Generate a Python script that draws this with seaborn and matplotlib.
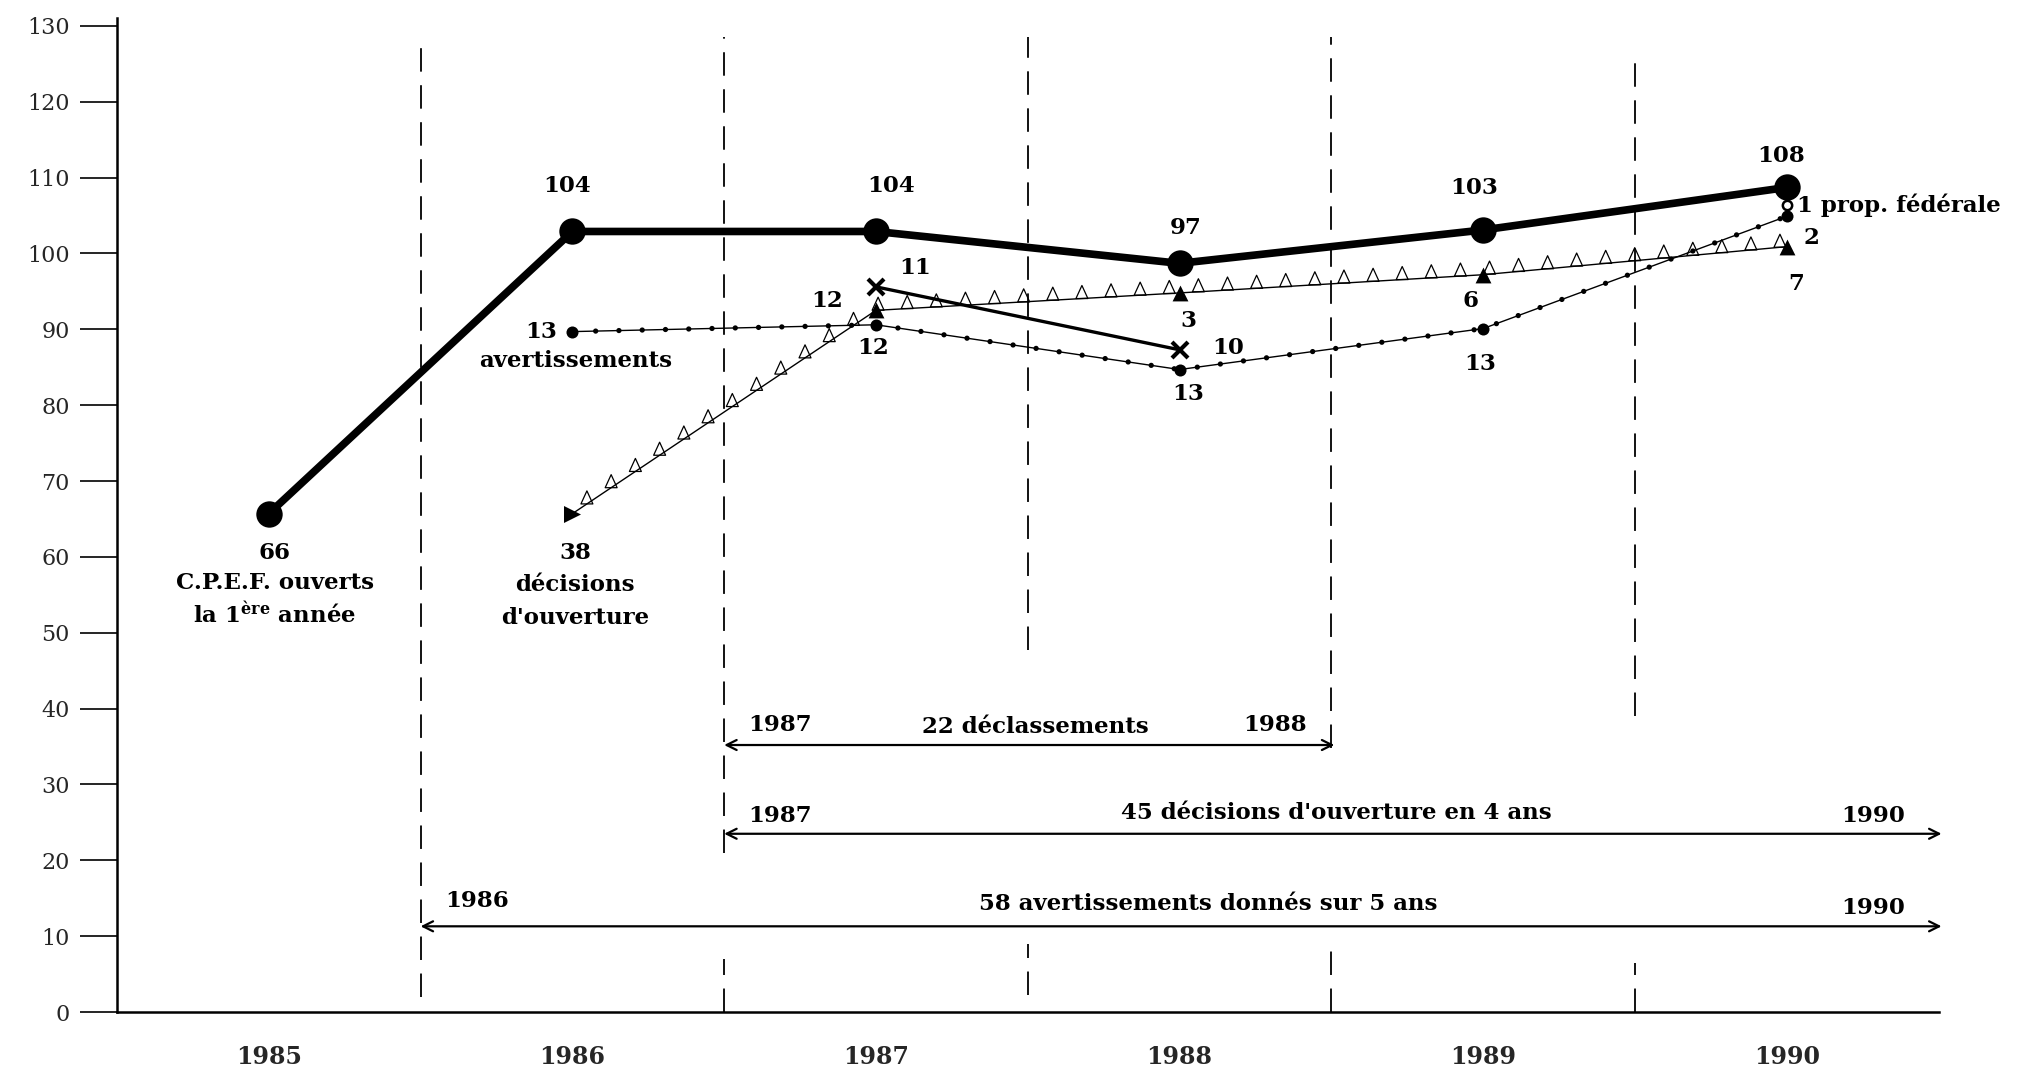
import numpy as np
import pandas as pd
import matplotlib
matplotlib.use("Agg")
import matplotlib.pyplot as plt
import seaborn as sns
from matplotlib.patheffects import AbstractPathEffect, Normal
from matplotlib.path import Path
from matplotlib.transforms import IdentityTransform

# ---------------- data ----------------
years = ["1985", "1986", "1987", "1988", "1989", "1990"]

cpef_years = ["1985", "1986", "1987", "1988", "1989", "1990"]
cpef_values = [65.7, 102.9, 102.9, 98.7, 103.1, 108.7]
cpef_labels = ["66", "104", "104", "97", "103", "108"]

avert_years = ["1986", "1987", "1988", "1989", "1990"]
avert_values = [89.7, 90.6, 84.7, 90.1, 104.9]
avert_labels = ["13", "12", "13", "13", "7"]

decis_years = ["1986", "1987", "1988", "1989", "1990"]
decis_values = [65.7, 92.5, 94.8, 97.2, 100.9]
decis_labels = ["38", "12", "3", "6", "2"]

declass_years = ["1987", "1988"]
declass_values = [95.6, 87.3]
declass_labels = ["11", "10"]

fed_years = ["1990"]
fed_values = [106.4]
fed_labels = ["1 prop. fédérale"]

span_starts = ["1987", "1987", "1986"]
span_ends = ["1988", "1990", "1990"]
span_texts = ["22 déclassements", "45 décisions d'ouverture en 4 ans",
              "58 avertissements donnés sur 5 ans"]
span_levels = [35.2, 23.5, 11.3]

y_ticks = list(range(0, 131, 10))

# ---------------- style ----------------
sns.set_style("white")
plt.rcParams["font.family"] = ["DejaVu Serif", "DejaVu Sans"]
plt.rcParams["mathtext.fontset"] = "dejavuserif"

BOLD = dict(fontweight="bold", fontsize=16.5, color="black")


class TriangleStroke(AbstractPathEffect):
    """Draw small hollow triangles sitting on the path (decoration)."""

    def __init__(self, spacing=21.0, width=8.6, height=9.4, lw=0.9):
        super().__init__()
        self.spacing, self.width, self.height, self.lw = spacing, width, height, lw

    def draw_path(self, renderer, gc, tpath, affine, rgbFace=None):
        verts = affine.transform(tpath.vertices)
        sp = renderer.points_to_pixels(self.spacing)
        w = renderer.points_to_pixels(self.width)
        h = renderer.points_to_pixels(self.height)
        centers = []
        carry = sp * 0.6
        for (x0, y0), (x1, y1) in zip(verts[:-1], verts[1:]):
            seg = np.hypot(x1 - x0, y1 - y0)
            d = carry
            while d < seg:
                t = d / seg
                centers.append((x0 + t * (x1 - x0), y0 + t * (y1 - y0)))
                d += sp
            carry = d - seg
        if not centers:
            return
        vv, cc = [], []
        for (x, y) in centers:
            vv += [(x - w / 2, y), (x + w / 2, y), (x, y + h), (x - w / 2, y)]
            cc += [Path.MOVETO, Path.LINETO, Path.LINETO, Path.CLOSEPOLY]
        gc0 = renderer.new_gc()
        gc0.copy_properties(gc)
        gc0.set_linewidth(self.lw)
        gc0.set_dashes(0, None)
        renderer.draw_path(gc0, Path(np.array(vv), cc), IdentityTransform(), None)
        gc0.restore()


fig = plt.figure(figsize=(20.4, 10.78), dpi=100)
ax = fig.add_axes([0.05735, 0.0612, 0.8929, 0.9218])

pos = {y: i for i, y in enumerate(years)}

df_cpef = pd.DataFrame({"x": [pos[y] for y in cpef_years], "y": cpef_values})
df_avert = pd.DataFrame({"x": [pos[y] for y in avert_years], "y": avert_values})
df_decis = pd.DataFrame({"x": [pos[y] for y in decis_years], "y": decis_values})
df_decl = pd.DataFrame({"x": [pos[y] for y in declass_years], "y": declass_values})
df_fed = pd.DataFrame({"x": [pos[y] for y in fed_years], "y": fed_values})

# --- separators (dashed) ---
sep_dash = (0, (13, 7.5))
separators = [
    (0.5, [(2.0, 128.6)]),
    (1.5, [(21.0, 128.6), (0.0, 7.0)]),
    (2.5, [(47.7, 128.6), (2.2, 9.0)]),
    (3.5, [(34.8, 128.6), (0.0, 8.0)]),
    (4.5, [(39.0, 126.6), (0.0, 6.5)]),
]
for xs, segs in separators:
    for lo, hi in segs:
        ax.vlines(xs, lo, hi, colors="black", linewidth=1.3, linestyles=sep_dash, zorder=1)

# --- décisions d'ouverture : line with hollow triangles ---
sns.lineplot(data=df_decis, x="x", y="y", ax=ax, color="black", linewidth=1.0,
             sort=False, zorder=3,
             path_effects=[Normal(), TriangleStroke()])
sns.scatterplot(data=df_decis.iloc[:1], x="x", y="y", ax=ax, marker=">", s=150,
                color="black", edgecolor="black", linewidth=0, zorder=5)
sns.scatterplot(data=df_decis.iloc[1:], x="x", y="y", ax=ax, marker="^", s=130,
                color="black", edgecolor="black", linewidth=0, zorder=5)

# --- avertissements : dotted line ---
sns.lineplot(data=df_avert, x="x", y="y", ax=ax, color="black", linewidth=1.0,
             sort=False, zorder=3)
sns.lineplot(data=df_avert, x="x", y="y", ax=ax, color="black", linewidth=3.8,
             sort=False, zorder=3)
ln = ax.lines[-1]
ln.set_linestyle((0, (0.01, 4.4)))
ln.set_dash_capstyle("round")
sns.scatterplot(data=df_avert, x="x", y="y", ax=ax, marker="o", s=75,
                color="black", edgecolor="black", linewidth=0, zorder=5)

# --- déclassements ---
sns.lineplot(data=df_decl, x="x", y="y", ax=ax, color="black", linewidth=2.4,
             sort=False, zorder=4, marker="x", markersize=12, markeredgewidth=3.0,
             markeredgecolor="black")

# --- proposition fédérale ---
sns.scatterplot(data=df_fed, x="x", y="y", ax=ax, marker="o", s=45,
                facecolor="white", edgecolor="black", linewidth=1.8, zorder=6)

# --- C.P.E.F. main line ---
sns.lineplot(data=df_cpef, x="x", y="y", ax=ax, color="black", linewidth=5.5,
             sort=False, zorder=7, marker="o", markersize=19,
             markeredgewidth=0, solid_capstyle="round")

# ---------------- labels ----------------
cpef_off = [(0.02, -5.2), (-0.017, 6.0), (0.05, 6.0), (0.02, 4.7), (-0.03, 5.5), (-0.02, 4.2)]
for (x, y, t, (dx, dy)) in zip(df_cpef.x, df_cpef.y, cpef_labels, cpef_off):
    ax.text(x + dx, y + dy, t, ha="center", va="center", **BOLD)
ax.text(0.02, 56.6, "C.P.E.F. ouverts", ha="center", va="center", **BOLD)
ax.text(0.02, 52.3, r"la 1$^{\mathbf{ère}}$ année", ha="center", va="center", **BOLD)

avert_off = [(-0.05, 0.0, "right"), (-0.01, -3.1, "center"), (0.03, -3.2, "center"),
             (-0.01, -4.7, "center"), (0.03, -8.9, "center")]
for (x, y, t, (dx, dy, ha)) in zip(df_avert.x, df_avert.y, avert_labels, avert_off):
    ax.text(x + dx, y + dy, t, ha=ha, va="center", **BOLD)
ax.text(1.01, 85.8, "avertissements", ha="center", va="center", **BOLD)

decis_off = [(0.01, -5.2, "center"), (-0.16, 1.3, "center"), (0.03, -3.7, "center"),
             (-0.04, -3.4, "center"), (0.08, 1.1, "center")]
for (x, y, t, (dx, dy, ha)) in zip(df_decis.x, df_decis.y, decis_labels, decis_off):
    ax.text(x + dx, y + dy, t, ha=ha, va="center", **BOLD)
ax.text(1.01, 56.3, "décisions", ha="center", va="center", **BOLD)
ax.text(1.01, 52.0, "d'ouverture", ha="center", va="center", **BOLD)

decl_off = [(0.13, 2.5), (0.16, 0.2)]
for (x, y, t, (dx, dy)) in zip(df_decl.x, df_decl.y, declass_labels, decl_off):
    ax.text(x + dx, y + dy, t, ha="center", va="center", **BOLD)

for (x, y, t) in zip(df_fed.x, df_fed.y, fed_labels):
    ax.text(x + 0.035, y, t, ha="left", va="center", **BOLD)

# --- spans with double arrows ---
mid_shift = [0.02, 0.01, 0.09]
start_dy = [2.6, 2.4, 3.3]
end_dy = [2.6, 2.4, 2.4]
mid_dy = [2.4, 2.7, 2.9]
end_dx = [0.09, 0.12, 0.12]
for s, e, t, lev, ms, sdy, edy, mdy, edx in zip(span_starts, span_ends, span_texts,
                                                span_levels, mid_shift, start_dy,
                                                end_dy, mid_dy, end_dx):
    x0 = pos[s] - 0.5
    x1 = pos[e] + 0.5 + 0.01
    ax.annotate("", xy=(x1, lev), xytext=(x0, lev),
                arrowprops=dict(arrowstyle="<->", color="black", lw=1.6,
                                mutation_scale=18, shrinkA=0, shrinkB=0),
                annotation_clip=False)
    ax.text(x0 + 0.08, lev + sdy, s, ha="left", va="center", **BOLD)
    ax.text(x1 - edx, lev + edy, e, ha="right", va="center", **BOLD)
    ax.text((x0 + x1) / 2 + ms, lev + mdy, t, ha="center", va="center", **BOLD)

# ---------------- axes ----------------
ax.set_xlim(-0.5, 5.5)
ax.set_ylim(0, 131)
ax.set_xlabel("")
ax.set_ylabel("")
ax.set_xticks(range(len(years)))
ax.set_xticklabels(years, fontweight="bold", fontsize=17)
ax.set_xticks([i + 0.5 for i in range(len(years) - 1)], minor=True)
ax.tick_params(axis="x", which="major", length=0, pad=24)
ax.tick_params(axis="x", which="minor", length=28, width=1.4, direction="out",
               color="black")
ax.set_yticks(y_ticks)
ax.set_yticklabels([str(v) for v in y_ticks], fontsize=16)
ax.tick_params(axis="y", which="major", length=27, width=1.2, pad=7,
               direction="out", color="black", left=True)
for side in ["top", "right"]:
    ax.spines[side].set_visible(False)
for side in ["left", "bottom"]:
    ax.spines[side].set_color("black")
    ax.spines[side].set_linewidth(1.8)
if ax.get_legend() is not None:
    ax.get_legend().remove()

fig.savefig("out.png", dpi=100, facecolor="white")
